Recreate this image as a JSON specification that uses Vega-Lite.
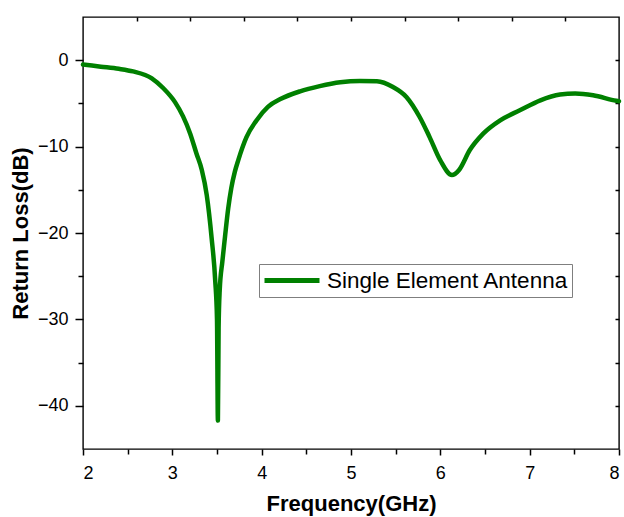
{
  "$schema": "https://vega.github.io/schema/vega-lite/v6.json",
  "width": 536,
  "height": 432,
  "autosize": "none",
  "padding": {"left": 83, "top": 17, "right": 5, "bottom": 68},
  "background": "white",
  "config": {
    "font": "Liberation Sans",
    "view": {"stroke": "black", "strokeWidth": 1.4},
    "axis": {"labelColor": "black", "titleColor": "black", "domain": false, "tickColor": "black", "tickWidth": 1.5, "gridColor": "black", "gridWidth": 1.5}
  },
  "data": {"values": [
    {"f": 2.0, "s": -0.5, "series": "Single Element Antenna"},
    {"f": 2.2, "s": -0.75, "series": "Single Element Antenna"},
    {"f": 2.4, "s": -1.0, "series": "Single Element Antenna"},
    {"f": 2.56, "s": -1.3, "series": "Single Element Antenna"},
    {"f": 2.77, "s": -2.1, "series": "Single Element Antenna"},
    {"f": 2.9, "s": -3.25, "series": "Single Element Antenna"},
    {"f": 3.03, "s": -4.85, "series": "Single Element Antenna"},
    {"f": 3.12, "s": -6.5, "series": "Single Element Antenna"},
    {"f": 3.2, "s": -8.5, "series": "Single Element Antenna"},
    {"f": 3.27, "s": -10.8, "series": "Single Element Antenna"},
    {"f": 3.33, "s": -12.7, "series": "Single Element Antenna"},
    {"f": 3.385, "s": -15.6, "series": "Single Element Antenna"},
    {"f": 3.44, "s": -20.6, "series": "Single Element Antenna"},
    {"f": 3.48, "s": -25.5, "series": "Single Element Antenna"},
    {"f": 3.5, "s": -30.0, "series": "Single Element Antenna"},
    {"f": 3.51, "s": -41.7, "series": "Single Element Antenna"},
    {"f": 3.518, "s": -31.0, "series": "Single Element Antenna"},
    {"f": 3.53, "s": -26.7, "series": "Single Element Antenna"},
    {"f": 3.56, "s": -23.3, "series": "Single Element Antenna"},
    {"f": 3.59, "s": -20.4, "series": "Single Element Antenna"},
    {"f": 3.625, "s": -17.2, "series": "Single Element Antenna"},
    {"f": 3.66, "s": -14.8, "series": "Single Element Antenna"},
    {"f": 3.7, "s": -12.9, "series": "Single Element Antenna"},
    {"f": 3.74, "s": -11.5, "series": "Single Element Antenna"},
    {"f": 3.83, "s": -8.9, "series": "Single Element Antenna"},
    {"f": 3.94, "s": -7.0, "series": "Single Element Antenna"},
    {"f": 4.07, "s": -5.4, "series": "Single Element Antenna"},
    {"f": 4.21, "s": -4.5, "series": "Single Element Antenna"},
    {"f": 4.43, "s": -3.6, "series": "Single Element Antenna"},
    {"f": 4.65, "s": -3.0, "series": "Single Element Antenna"},
    {"f": 4.88, "s": -2.55, "series": "Single Element Antenna"},
    {"f": 5.1, "s": -2.4, "series": "Single Element Antenna"},
    {"f": 5.29, "s": -2.43, "series": "Single Element Antenna"},
    {"f": 5.47, "s": -3.1, "series": "Single Element Antenna"},
    {"f": 5.62, "s": -4.25, "series": "Single Element Antenna"},
    {"f": 5.77, "s": -6.6, "series": "Single Element Antenna"},
    {"f": 5.88, "s": -8.9, "series": "Single Element Antenna"},
    {"f": 6.0, "s": -11.6, "series": "Single Element Antenna"},
    {"f": 6.13, "s": -13.3, "series": "Single Element Antenna"},
    {"f": 6.21, "s": -12.7, "series": "Single Element Antenna"},
    {"f": 6.33, "s": -10.4, "series": "Single Element Antenna"},
    {"f": 6.48, "s": -8.5, "series": "Single Element Antenna"},
    {"f": 6.67, "s": -6.96, "series": "Single Element Antenna"},
    {"f": 6.89, "s": -5.8, "series": "Single Element Antenna"},
    {"f": 7.12, "s": -4.64, "series": "Single Element Antenna"},
    {"f": 7.34, "s": -3.98, "series": "Single Element Antenna"},
    {"f": 7.51, "s": -3.86, "series": "Single Element Antenna"},
    {"f": 7.71, "s": -4.06, "series": "Single Element Antenna"},
    {"f": 7.97, "s": -4.7, "series": "Single Element Antenna"},
    {"f": 8.0, "s": -4.75, "series": "Single Element Antenna"}
  ]},
  "mark": {"type": "line", "strokeWidth": 4.5, "interpolate": "monotone", "strokeCap": "round", "strokeJoin": "round"},
  "encoding": {
    "x": {"field": "f", "type": "quantitative", "scale": {"domain": [2, 8], "nice": false, "zero": false},
      "axis": {"orient": "bottom",
        "values": [2, 2.5, 2.6, 3, 3.2, 3.5, 3.8, 4, 4.4, 4.5, 5, 5.5, 5.6, 6, 6.2, 6.5, 6.8, 7, 7.4, 7.5, 8],
        "labelExpr": "datum.value % 1 === 0 ? format(datum.value, 'd') : ''",
        "tickSize": {"condition": {"test": "datum.value % 1 === 0", "value": 6}, "value": 5},
        "tickOpacity": {"condition": {"test": "datum.value % 0.5 === 0", "value": 1}, "value": 0},
        "grid": true,
        "gridDash": [4, 1000],
        "gridOpacity": {"condition": {"test": "indexof([2.6, 3.2, 3.8, 4.4, 5, 5.6, 6.2, 6.8, 7.4], datum.value) >= 0", "value": 1}, "value": 0},
        "labelFontSize": 18, "labelPadding": 9,
        "title": "Frequency(GHz)", "titleFontSize": 22, "titleFontWeight": "bold", "titlePadding": 11}},
    "y": {"field": "s", "type": "quantitative", "scale": {"domain": [-45, 5], "nice": false, "zero": false},
      "axis": {"orient": "left",
        "values": [-40, -35, -30, -25, -20, -15, -10, -5, 0],
        "labelExpr": "datum.value % 10 === 0 ? format(datum.value, 'd') : ''",
        "tickSize": {"condition": {"test": "datum.value % 10 === 0", "value": 8}, "value": 5},
        "grid": true,
        "gridDash": [0, 532, 4, 1000],
        "labelFontSize": 18, "labelPadding": 7,
        "title": "Return Loss(dB)", "titleFontSize": 22, "titleFontWeight": "bold", "titlePadding": 5}},
    "color": {"field": "series", "type": "nominal", "scale": {"range": ["#008000"]},
      "legend": {"orient": "none", "legendX": 176, "legendY": 247, "title": null, "symbolType": "stroke", "symbolSize": 3025, "symbolStrokeWidth": 5,
        "labelFontSize": 22.5, "labelColor": "black", "labelOffset": 5, "labelLimit": 500, "strokeColor": "#7f7f7f", "padding": 3, "clipHeight": 27, "symbolOffset": 0}}
  }
}
